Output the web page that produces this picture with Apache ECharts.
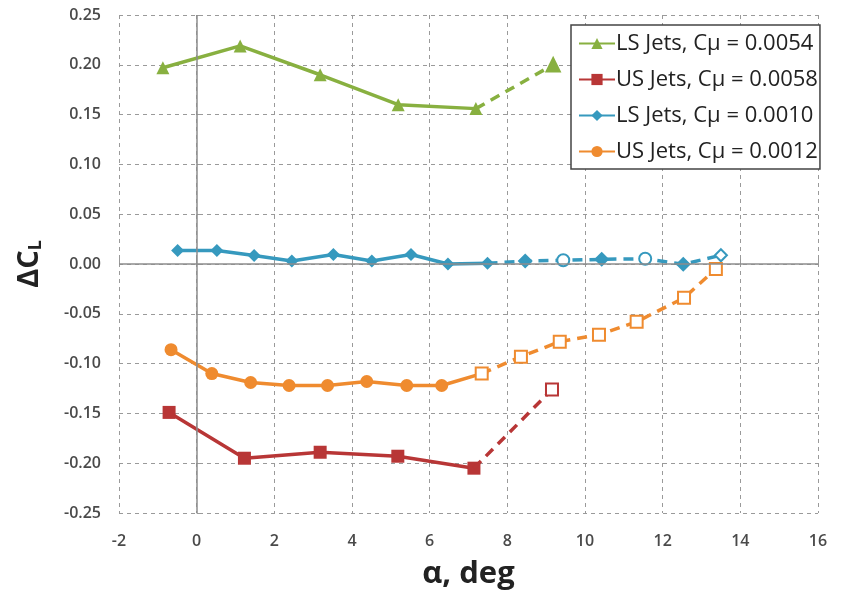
<!DOCTYPE html>
<html>
<head>
<meta charset="utf-8">
<script src="https://cdn.jsdelivr.net/npm/echarts@6/dist/echarts.min.js"></script>
<style>
  html, body { margin: 0; padding: 0; background: #fff; }
  #chart { width: 842px; height: 595px; }
</style>
</head>
<body>
<div id="chart"></div>
<script>
// Lift increment vs. angle of attack for lower-surface (LS) and upper-surface (US) jets
const xTicks = [-2, 0, 2, 4, 6, 8, 10, 12, 14, 16];
const yTicks = [-0.25, -0.20, -0.15, -0.10, -0.05, 0.00, 0.05, 0.10, 0.15, 0.20, 0.25];

// LS Jets, Cμ = 0.0054
const lsHighAlpha = [-0.87, 1.12, 3.18, 5.19, 7.19];
const lsHighDCl   = [0.197, 0.219, 0.190, 0.160, 0.156];
const lsHighExtAlpha = [7.19, 9.18];
const lsHighExtDCl   = [0.156, 0.200];

// US Jets, Cμ = 0.0058
const usHighAlpha = [-0.71, 1.23, 3.18, 5.18, 7.14];
const usHighDCl   = [-0.149, -0.195, -0.189, -0.193, -0.205];
const usHighExtAlpha = [7.14, 9.15];
const usHighExtDCl   = [-0.205, -0.126];

// LS Jets, Cμ = 0.0010
const lsLowAlpha = [-0.49, 0.52, 1.48, 2.45, 3.52, 4.51, 5.52, 6.47, 7.49];
const lsLowDCl   = [0.0136, 0.0136, 0.0086, 0.003, 0.0096, 0.003, 0.0096, 0.0, 0.0007];
const lsLowExtAlpha = [7.49, 8.46, 9.44, 10.43, 11.55, 12.53, 13.50];
const lsLowExtDCl   = [0.0007, 0.003, 0.0037, 0.0047, 0.0053, -0.0003, 0.0088];

// US Jets, Cμ = 0.0012
const usLowAlpha = [-0.66, 0.39, 1.39, 2.38, 3.37, 4.38, 5.41, 6.31, 7.34];
const usLowDCl   = [-0.086, -0.110, -0.119, -0.122, -0.122, -0.118, -0.122, -0.122, -0.110];
const usLowExtAlpha = [7.34, 8.35, 9.35, 10.36, 11.33, 12.55, 13.37];
const usLowExtDCl   = [-0.110, -0.093, -0.078, -0.071, -0.058, -0.034, -0.005];

// Marker shapes along the dashed extensions
const lsHighExtMarks = ['none', 'triangle'];
const usHighExtMarks = ['none', 'emptyRect'];
const lsLowExtMarks  = ['none', 'diamond', 'emptyCircle', 'diamond', 'emptyCircle', 'diamond', 'emptyDiamond'];
const usLowExtMarks  = ['emptyRect', 'emptyRect', 'emptyRect', 'emptyRect', 'emptyRect', 'emptyRect', 'emptyRect'];

const names = ['LS Jets, Cμ = 0.0054', 'US Jets, Cμ = 0.0058', 'LS Jets, Cμ = 0.0010', 'US Jets, Cμ = 0.0012'];
const colors = ['#88b040', '#b83636', '#3699be', '#ef8b2f'];

const pairs = (xs, ys) => xs.map((x, i) => [x, ys[i]]);
const marked = (xs, ys, marks) => xs.map((x, i) => (
  marks[i] === 'none' ? { value: [x, ys[i]], symbolSize: 0 } : { value: [x, ys[i]], symbol: marks[i] }
));

function solid(name, color, symbol, data, size) {
  return {
    name, type: 'line', data, symbol, symbolSize: size, color,
    lineStyle: { width: 3.5, color }, itemStyle: { color },
    z: 3
  };
}
function dashed(name, color, data, size) {
  return {
    name, type: 'line', data, symbolSize: size, color,
    lineStyle: { width: 3.5, color, type: [10, 7] },
    itemStyle: { color, borderColor: color, borderWidth: 2.2 },
    z: 4
  };
}

const chart = echarts.init(document.getElementById('chart'));
const axisLabelStyle = { color: '#4a4a4a', fontFamily: 'Open Sans', fontSize: 16, fontWeight: 600 };
const gridLine = { show: true, lineStyle: { color: '#9a9a9a', type: [4, 4], width: 1 } };

chart.setOption({
  animation: false,
  grid: { left: 119, right: 24, top: 15, bottom: 73 },
  xAxis: {
    type: 'value', min: -2, max: 16, interval: 2,
    axisLine: { show: false },
    axisTick: { show: true, inside: true, length: 5, lineStyle: { color: '#9a9a9a' } },
    splitLine: gridLine,
    axisLabel: Object.assign({ margin: 20, formatter: v => xTicks.includes(v) ? String(v) : '' }, axisLabelStyle),
    name: 'α, deg', nameLocation: 'middle', nameGap: 46,
    nameTextStyle: { fontFamily: 'Open Sans', fontSize: 31, fontWeight: 'bold', color: '#222' }
  },
  yAxis: {
    type: 'value', min: -0.25, max: 0.25, interval: 0.05,
    axisLine: { show: false },
    axisTick: { show: true, inside: true, length: 5, lineStyle: { color: '#9a9a9a' } },
    splitLine: gridLine,
    axisLabel: Object.assign({ margin: 18, formatter: v => {
      const t = yTicks.find(k => Math.abs(k - v) < 1e-9);
      return t === undefined ? '' : t.toFixed(2);
    } }, axisLabelStyle),
    name: '{d|ΔC}{s|L}', nameLocation: 'middle', nameGap: 74, nameRotate: 90,
    nameTextStyle: {
      color: '#222',
      rich: {
        d: { fontFamily: 'Open Sans', fontSize: 29, fontWeight: 'bold', color: '#222' },
        s: { fontFamily: 'Open Sans', fontSize: 18, fontWeight: 'bold', color: '#222', verticalAlign: 'bottom', padding: [12, 0, 0, 0] }
      }
    }
  },
  legend: {
    data: names,
    orient: 'vertical', left: 571, top: 25,
    padding: [7, 2, 6, 7], itemGap: 13, itemWidth: 36, itemHeight: 14,
    backgroundColor: '#fff', borderColor: '#444', borderWidth: 1.5, borderRadius: 0,
    textStyle: { fontFamily: 'Open Sans', fontSize: 22, color: '#222', lineHeight: 23, padding: [0, 0, 0, -4] }
  },
  series: [
    Object.assign(solid(names[0], colors[0], 'triangle', pairs(lsHighAlpha, lsHighDCl), 13), {
      markLine: {
        silent: true, symbol: 'none', label: { show: false },
        lineStyle: { color: '#8c8c8c', type: 'solid', width: 1.5 },
        data: [{ yAxis: 0 }, { xAxis: 0 }]
      },
      z: 2
    }),
    solid(names[1], colors[1], 'rect', pairs(usHighAlpha, usHighDCl), 13),
    solid(names[2], colors[2], 'diamond', pairs(lsLowAlpha, lsLowDCl), 13),
    solid(names[3], colors[3], 'circle', pairs(usLowAlpha, usLowDCl), 13),
    dashed('ext-0054', colors[0], marked(lsHighExtAlpha, lsHighExtDCl, lsHighExtMarks), 13),
    dashed('ext-0058', colors[1], marked(usHighExtAlpha, usHighExtDCl, usHighExtMarks), 12),
    dashed('ext-0010', colors[2], marked(lsLowExtAlpha, lsLowExtDCl, lsLowExtMarks), 12),
    dashed('ext-0012', colors[3], marked(usLowExtAlpha, usLowExtDCl, usLowExtMarks), 12)
  ]
});
</script>
</body>
</html>
